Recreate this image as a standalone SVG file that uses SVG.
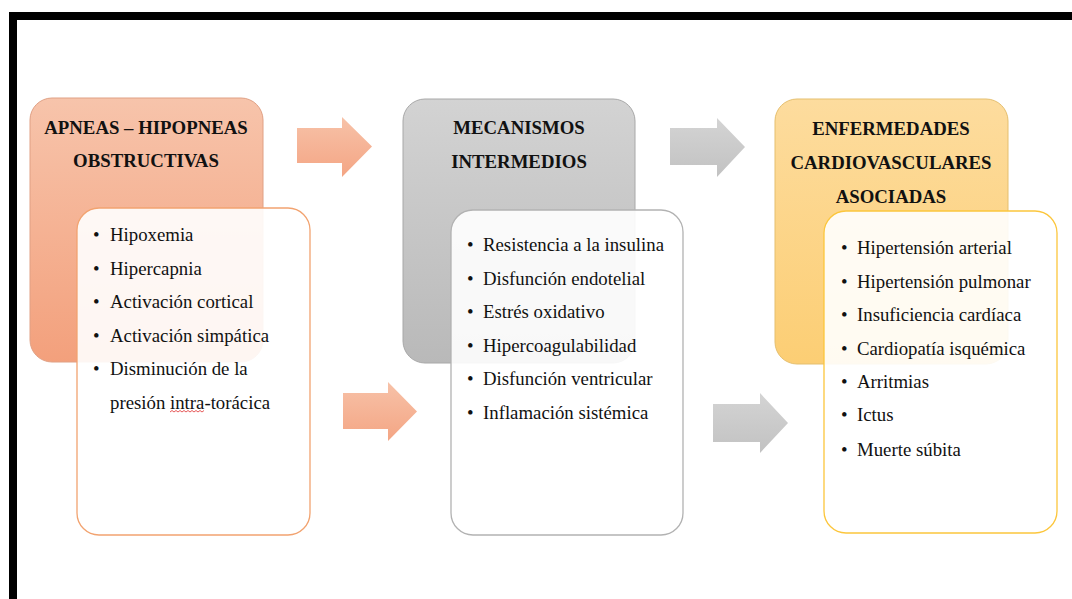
<svg xmlns="http://www.w3.org/2000/svg" width="1072" height="599" viewBox="0 0 1072 599">
<defs>
<linearGradient id="gO" x1="0" y1="0" x2="0" y2="1"><stop offset="0" stop-color="#f7c4ab"/><stop offset="1" stop-color="#f3a07c"/></linearGradient>
<linearGradient id="gG" x1="0" y1="0" x2="0" y2="1"><stop offset="0" stop-color="#d3d3d3"/><stop offset="1" stop-color="#b9b9b9"/></linearGradient>
<linearGradient id="gY" x1="0" y1="0" x2="0" y2="1"><stop offset="0" stop-color="#fddc9e"/><stop offset="1" stop-color="#fcce74"/></linearGradient>
<linearGradient id="aO" x1="0" y1="0" x2="0" y2="1"><stop offset="0" stop-color="#f7c2a8"/><stop offset="1" stop-color="#f4a584"/></linearGradient>
<linearGradient id="aG" x1="0" y1="0" x2="0" y2="1"><stop offset="0" stop-color="#d4d4d4"/><stop offset="1" stop-color="#c2c2c2"/></linearGradient>
</defs>
<style>
.hd{font-family:"Liberation Serif","Times New Roman",serif;font-weight:bold;font-size:18.8px;fill:#111;text-anchor:middle}
.li{font-family:"Liberation Serif","Times New Roman",serif;font-size:18.8px;fill:#111}
.box{fill:#ffffff;fill-opacity:0.9;stroke-width:1.3}
</style>
<rect width="1072" height="599" fill="#ffffff"/>
<path d="M13 599 V16 H1072" fill="none" stroke="#000" stroke-width="8"/>

<g id="connectors">
<polygon points="297,128 342,128 342,117 372,146.5 342,177 342,163 297,163" fill="url(#aO)"/>
<polygon points="343,393 388,393 388,382 417,411.5 388,441 388,429 343,429" fill="url(#aO)"/>
<polygon points="670,128 717,128 717,118 745,147 717,177 717,165 670,165" fill="url(#aG)"/>
<polygon points="713,404 760,404 760,393 788,423 760,453 760,442 713,442" fill="url(#aG)"/>
</g>

<g id="node-apneas">
<rect x="30" y="98" width="233" height="264" rx="22" fill="url(#gO)" stroke="#e0a084" stroke-width="1"/>
<text class="hd" x="146" y="134">APNEAS – HIPOPNEAS</text>
<text class="hd" x="146" y="167">OBSTRUCTIVAS</text>
</g>
<g id="node-apneas-list">
<rect class="box" x="77" y="208" width="233" height="327" rx="22" stroke="#f2a370"/>
<g class="li">
<text x="93" y="241">•</text><text x="110" y="241">Hipoxemia</text>
<text x="93" y="275">•</text><text x="110" y="275">Hipercapnia</text>
<text x="93" y="308">•</text><text x="110" y="308">Activación cortical</text>
<text x="93" y="342">•</text><text x="110" y="342">Activación simpática</text>
<text x="93" y="375">•</text><text x="110" y="375">Disminución de la</text>
<text x="110" y="409">presión intra-torácica</text>
</g>
<path d="M170 412 l2 -1.5 l2 1.5 l2 -1.5 l2 1.5 l2 -1.5 l2 1.5 l2 -1.5 l2 1.5 l2 -1.5 l2 1.5 l2 -1.5 l2 1.5 l2 -1.5 l2 1.5 l2 -1.5 l2 1.5 l2 -1.5" fill="none" stroke="#e03030" stroke-width="0.8"/>
</g>

<g id="node-mecanismos">
<rect x="403" y="99" width="232" height="264" rx="22" fill="url(#gG)" stroke="#a8a8a8" stroke-width="1"/>
<text class="hd" x="519" y="134">MECANISMOS</text>
<text class="hd" x="519" y="168">INTERMEDIOS</text>
</g>
<g id="node-mecanismos-list">
<rect class="box" x="451" y="210" width="232" height="325" rx="22" stroke="#b2b2b2"/>
<g class="li">
<text x="467" y="251">•</text><text x="483" y="251">Resistencia a la insulina</text>
<text x="467" y="285">•</text><text x="483" y="285">Disfunción endotelial</text>
<text x="467" y="318">•</text><text x="483" y="318">Estrés oxidativo</text>
<text x="467" y="352">•</text><text x="483" y="352">Hipercoagulabilidad</text>
<text x="467" y="385">•</text><text x="483" y="385">Disfunción ventricular</text>
<text x="467" y="419">•</text><text x="483" y="419">Inflamación sistémica</text>
</g>
</g>

<g id="node-enfermedades">
<rect x="775" y="99" width="233" height="265" rx="22" fill="url(#gY)" stroke="#e5bf6e" stroke-width="1"/>
<text class="hd" x="891" y="135">ENFERMEDADES</text>
<text class="hd" x="891" y="169">CARDIOVASCULARES</text>
<text class="hd" x="891" y="203">ASOCIADAS</text>
</g>
<g id="node-enfermedades-list">
<rect class="box" x="824" y="211" width="233" height="322" rx="22" stroke="#fcc63c"/>
<g class="li">
<text x="841" y="254">•</text><text x="857" y="254">Hipertensión arterial</text>
<text x="841" y="288">•</text><text x="857" y="288">Hipertensión pulmonar</text>
<text x="841" y="321">•</text><text x="857" y="321">Insuficiencia cardíaca</text>
<text x="841" y="355">•</text><text x="857" y="355">Cardiopatía isquémica</text>
<text x="841" y="388">•</text><text x="857" y="388">Arritmias</text>
<text x="841" y="421">•</text><text x="857" y="421">Ictus</text>
<text x="841" y="456">•</text><text x="857" y="456">Muerte súbita</text>
</g>
</g>
</svg>
